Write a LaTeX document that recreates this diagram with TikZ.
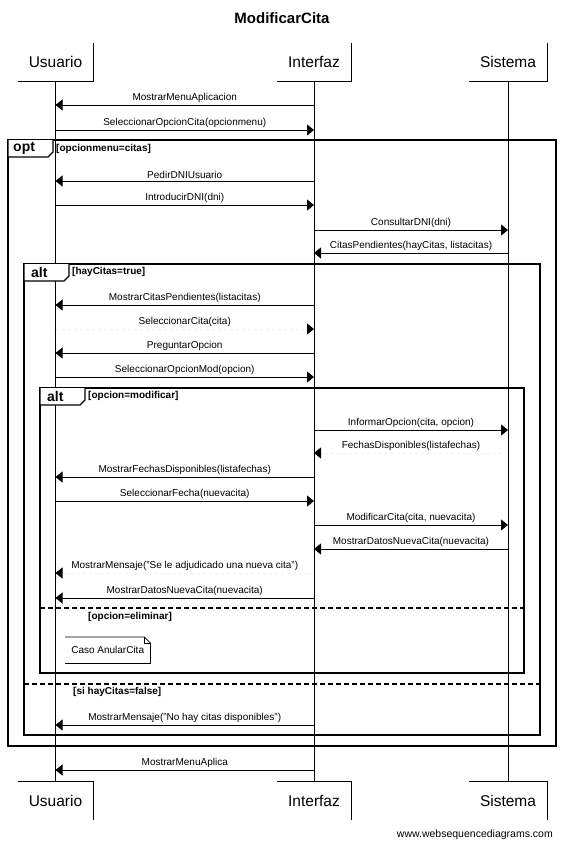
\documentclass[tikz,border=0pt]{standalone}
\usepackage{fontspec}
\setmainfont{Liberation Sans}
\usetikzlibrary{positioning}
\usetikzlibrary{arrows.meta}

\begin{document}
\begin{tikzpicture}[x=1pt, y=-1pt, actor/.style={inner xsep=11pt, inner ysep=0pt, minimum height=38pt, font=\fontsize{15.5}{18}\selectfont}, msg/.style={line width=0.9pt, -{Triangle[length=7pt,width=11pt]}}, lbl/.style={midway, above, inner sep=2pt, font=\fontsize{10}{12}\selectfont}]
\tikzstyle{frame}=[line width=1.3pt]
\tikzstyle{guarda}=[anchor=west, inner sep=0pt, font=\bfseries\fontsize{10}{12}\selectfont]
\tikzstyle{tabtxt}=[anchor=west, inner sep=0pt, font=\bfseries\fontsize{14}{16}\selectfont]
\tikzstyle{vuelta}=[line width=0.9pt, dashed, draw=black!6, -{Triangle[length=7pt,width=11pt,color=black,fill=black]}]
\useasboundingbox (0,0) rectangle (563,848);

\node (titulo) [font=\bfseries\fontsize{15}{18}\selectfont] at (282,18) {ModificarCita};

% participantes
\node (Utop) [actor] at (55.5,62) {Usuario};
\node (Itop) [actor] at (314,62) {Interfaz};
\node (Stop) [actor] at (508,62) {Sistema};
\node (Ubot) [actor] at (55.5,800.5) {Usuario};
\node (Ibot) [actor] at (314,800.5) {Interfaz};
\node (Sbot) [actor] at (508,800.5) {Sistema};

\draw [line width=0.9pt] (Utop.south west) -- (Utop.south east) -- (Utop.north east);
\draw [line width=0.9pt] (Itop.south west) -- (Itop.south east) -- (Itop.north east);
\draw [line width=0.9pt] (Stop.south west) -- (Stop.south east) -- (Stop.north east);
\draw [line width=0.9pt] (Ubot.north west) -- (Ubot.north east) -- (Ubot.south east);
\draw [line width=0.9pt] (Ibot.north west) -- (Ibot.north east) -- (Ibot.south east);
\draw [line width=0.9pt] (Sbot.north west) -- (Sbot.north east) -- (Sbot.south east);

% lineas de vida
\draw [line width=0.9pt] (Utop.south) -- (Ubot.north);
\draw [line width=0.9pt] (Itop.south) -- (Ibot.north);
\draw [line width=0.9pt] (Stop.south) -- (Sbot.north);

% filas
\coordinate (m1) at (0,105);
\coordinate (m2) at (0,130);
\coordinate (m3) at (0,181);
\coordinate (m4) at (0,205);
\coordinate (m5) at (0,230);
\coordinate (m6) at (0,253);
\coordinate (m7) at (0,305);
\coordinate (m8) at (0,329);
\coordinate (m9) at (0,353);
\coordinate (m10) at (0,377);
\coordinate (m11) at (0,430);
\coordinate (m12) at (0,453);
\coordinate (m13) at (0,477);
\coordinate (m14) at (0,501);
\coordinate (m15) at (0,525);
\coordinate (m16) at (0,549);
\coordinate (m17) at (0,573);
\coordinate (m18) at (0,598);
\coordinate (m19) at (0,725);
\coordinate (m20) at (0,770);

% opt
\draw [frame] (8,140) rectangle (556,746);
\draw [frame, fill=white] (8,140) -- (8,157) -- (48,157) -- (53,152) -- (53,140);
\node (optlbl) [tabtxt] at (13,148.5) {opt};
\node (optg) [guarda] at (56,149) {[opcionmenu=citas]};

% alt hayCitas
\draw [frame] (24,264) rectangle (540,735);
\draw [frame, fill=white] (24,264) -- (24,281) -- (64,281) -- (69,276) -- (69,264);
\node (alt1lbl) [tabtxt] at (31,272.5) {alt};
\node (alt1g) [guarda] at (72,272) {[hayCitas=true]};
\draw [frame, dash pattern=on 5pt off 3pt] (24,684) -- (540,684);
\node (alt1g2) [guarda] at (73,692) {[si hayCitas=false]};

% alt opcion
\draw [frame] (40,388) rectangle (524,673);
\draw [frame, fill=white] (40,388) -- (40,405) -- (80,405) -- (85,400) -- (85,388);
\node (alt2lbl) [tabtxt] at (47,396.5) {alt};
\node (alt2g) [guarda] at (88,396) {[opcion=modificar]};
\draw [frame, dash pattern=on 5pt off 3pt] (40,608) -- (524,608);
\node (alt2g2) [guarda] at (88,617) {[opcion=eliminar]};

% nota
\node (nota) [anchor=north west, minimum width=85pt, minimum height=26pt, inner sep=0pt, font=\fontsize{10}{12}\selectfont] at (65,637) {Caso AnularCita};
\draw [line width=0.8pt] (nota.south west) -- (nota.south east) -- ([yshift=-6pt]nota.north east) -- ([xshift=-6pt]nota.north east) -- (nota.north west);
\draw [line width=0.6pt] ([xshift=-6pt]nota.north east) -- ([xshift=-6pt,yshift=-6pt]nota.north east) -- ([yshift=-6pt]nota.north east);

% mensajes
\draw [msg] (Itop |- m1) -- (Utop |- m1) node [lbl] {MostrarMenuAplicacion};
\draw [msg] (Utop |- m2) -- (Itop |- m2) node [lbl] {SeleccionarOpcionCita(opcionmenu)};
\draw [msg] (Itop |- m3) -- (Utop |- m3) node [lbl] {PedirDNIUsuario};
\draw [msg] (Utop |- m4) -- (Itop |- m4) node [lbl] {IntroducirDNI(dni)};
\draw [msg] (Itop |- m5) -- (Stop |- m5) node [lbl] {ConsultarDNI(dni)};
\draw [msg] (Stop |- m6) -- (Itop |- m6) node [lbl] {CitasPendientes(hayCitas, listacitas)};
\draw [msg] (Itop |- m7) -- (Utop |- m7) node [lbl] {MostrarCitasPendientes(listacitas)};
\draw [vuelta] (Utop |- m8) -- (Itop |- m8) node [lbl] {SeleccionarCita(cita)};
\draw [msg] (Itop |- m9) -- (Utop |- m9) node [lbl] {PreguntarOpcion};
\draw [msg] (Utop |- m10) -- (Itop |- m10) node [lbl] {SeleccionarOpcionMod(opcion)};
\draw [msg] (Itop |- m11) -- (Stop |- m11) node [lbl] {InformarOpcion(cita, opcion)};
\draw [vuelta] (Stop |- m12) -- (Itop |- m12) node [lbl] {FechasDisponibles(listafechas)};
\draw [msg] (Itop |- m13) -- (Utop |- m13) node [lbl] {MostrarFechasDisponibles(listafechas)};
\draw [msg] (Utop |- m14) -- (Itop |- m14) node [lbl] {SeleccionarFecha(nuevacita)};
\draw [msg] (Itop |- m15) -- (Stop |- m15) node [lbl] {ModificarCita(cita, nuevacita)};
\draw [msg] (Stop |- m16) -- (Itop |- m16) node [lbl] {MostrarDatosNuevaCita(nuevacita)};
\draw [vuelta] (Itop |- m17) -- (Utop |- m17) node [lbl] {MostrarMensaje("Se le adjudicado una nueva cita")};
\draw [msg] (Itop |- m18) -- (Utop |- m18) node [lbl] {MostrarDatosNuevaCita(nuevacita)};
\draw [msg] (Itop |- m19) -- (Utop |- m19) node [lbl] {MostrarMensaje("No hay citas disponibles")};
\draw [msg] (Itop |- m20) -- (Utop |- m20) node [lbl] {MostrarMenuAplica};

\node (marca) [anchor=east, inner sep=0pt, font=\fontsize{10.5}{12}\selectfont] at (553,835) {www.websequencediagrams.com};
\end{tikzpicture}
\end{document}
